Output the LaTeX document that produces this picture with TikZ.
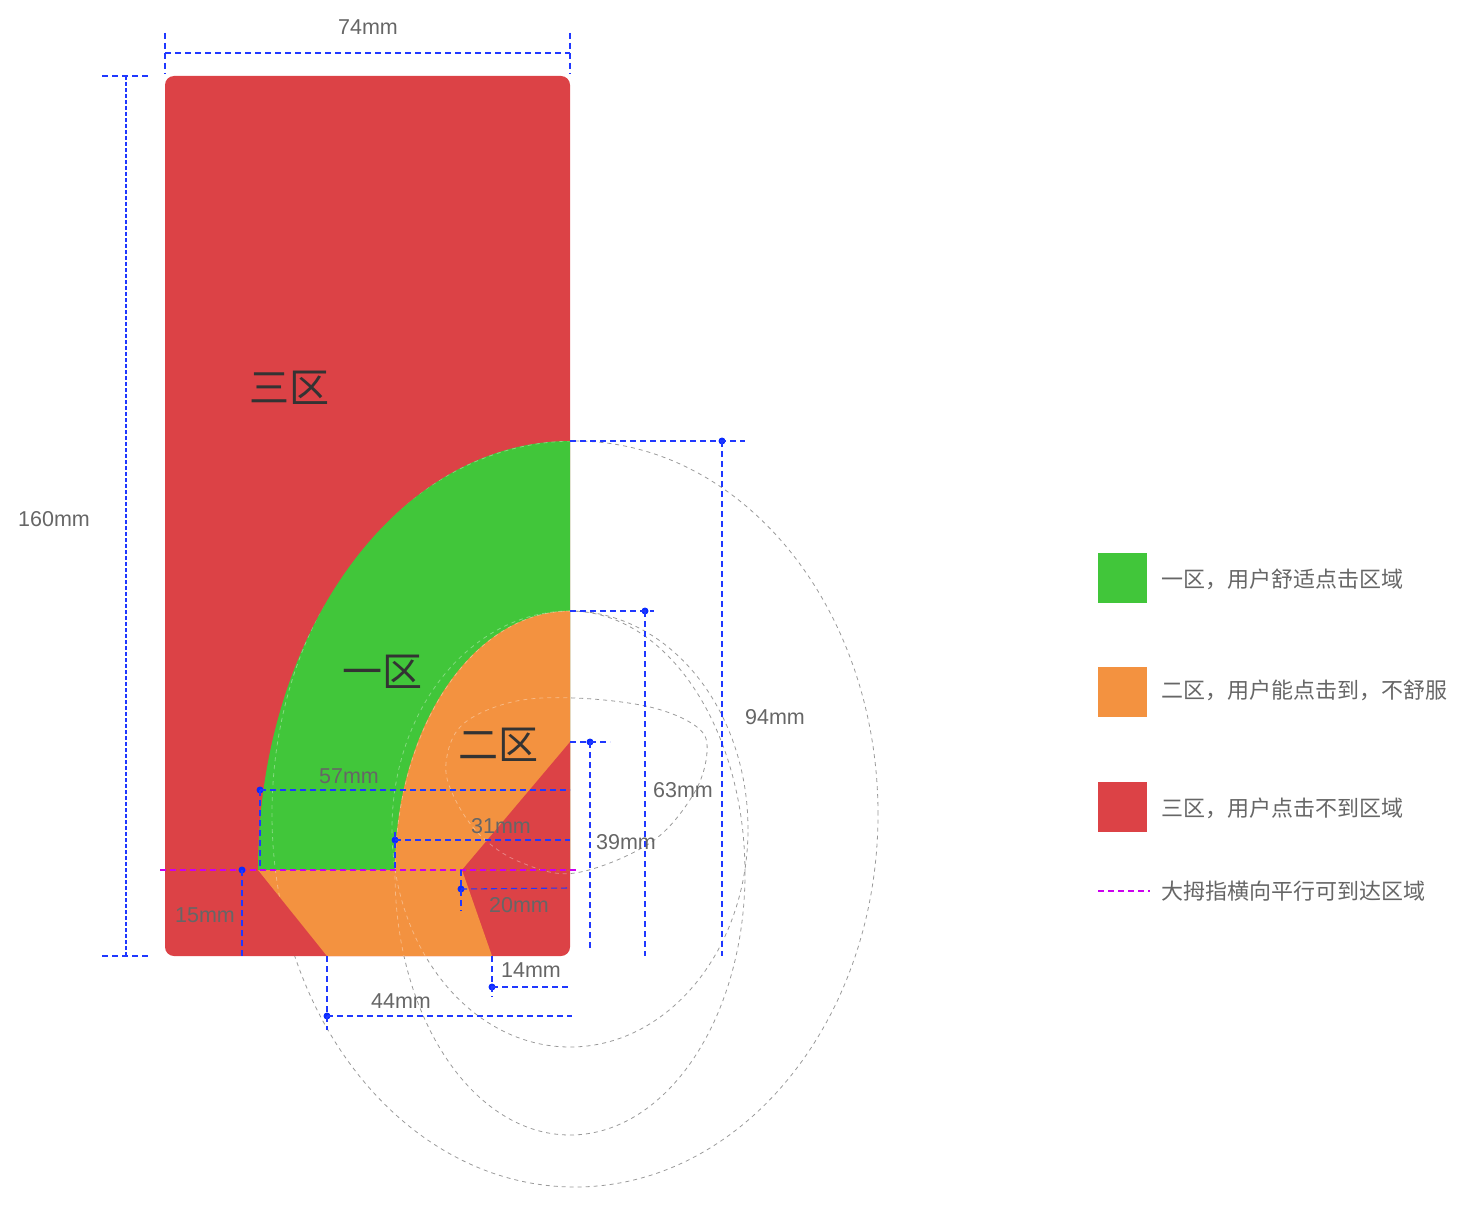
\documentclass[tikz,border=0pt]{standalone}
\usepackage{fontspec}
\setmainfont{Liberation Sans}
\newfontfamily\cjk{Noto Sans CJK SC}
\definecolor{zred}{HTML}{DC4246}
\definecolor{zgreen}{HTML}{41C63A}
\definecolor{zorange}{HTML}{F39240}
\definecolor{dimblue}{HTML}{2038FF}
\definecolor{dotblue}{HTML}{0A2BFF}
\definecolor{thumb}{HTML}{CC00EE}
\definecolor{labgray}{HTML}{666666}
\definecolor{guide}{HTML}{9A9A9A}
\definecolor{zonetext}{HTML}{333333}
\begin{document}
\begin{tikzpicture}[x=1pt,y=-1pt,
  dimline/.style={draw=dimblue, line width=1.1pt, dash pattern=on 6pt off 4pt},
  guideline/.style={draw=guide, line width=0.8pt, dash pattern=on 4pt off 4pt},
  faintline/.style={draw=white, opacity=0.35, line width=0.8pt, dash pattern=on 4pt off 4pt},
  thumbline/.style={draw=thumb, line width=1.4pt, dash pattern=on 6pt off 4pt},
  dimdot/.style={circle, fill=dotblue, inner sep=0pt, minimum size=7pt},
  dimlabel/.style={text=labgray, font=\fontsize{21.5}{26}\selectfont, inner sep=0pt},
  zonelabel/.style={text=zonetext, font=\cjk\fontsize{40}{48}\selectfont, inner sep=0pt},
  legendtext/.style={text=labgray, font=\cjk\fontsize{22}{26}\selectfont, inner sep=0pt, anchor=west},
  legendbox/.style={minimum width=49pt, minimum height=50pt, inner sep=0pt, anchor=north west}]
\useasboundingbox (0,0) rectangle (1471,1206);

% ---------- guide curves (behind fills) ----------
\def\guidecurves#1{%
  \draw[#1] (575,814) ellipse [x radius=303pt, y radius=373pt];
  \draw[#1] (570,873) ellipse [x radius=175pt, y radius=262pt];
  \draw[#1] (570,829) ellipse [x radius=178pt, y radius=218pt];
  \draw[#1] plot[smooth cycle, tension=0.6] coordinates {(575,698) (650,707) (697,727) (707,752) (693,795) (650,843) (575,873) (520,862) (480,835) (454,797) (446,763) (462,725) (512,702)};
}
\guidecurves{guideline}

% ---------- phone and zones ----------
\fill[zred, rounded corners=9pt] (165,76) rectangle (570,956);
\fill[zgreen] (570,441) arc[start angle=90, end angle=180, x radius=312pt, y radius=429pt] -- (570,870) -- cycle;
\fill[zorange] (570,611) arc[start angle=90, end angle=180, x radius=175pt, y radius=259pt] -- (570,870) -- cycle;
\fill[zred] (462,870) -- (570,742) -- (570,870) -- cycle;
\fill[zorange] (258,870) -- (327,956) -- (492,956) -- (462,870) -- cycle;

% faint guide curves over the reachable zones
\begin{scope}
\clip (570,441) arc[start angle=90, end angle=180, x radius=312pt, y radius=429pt] -- (327,956) -- (570,956) -- cycle;
\guidecurves{faintline}
\end{scope}

% ---------- zone labels ----------
\node[zonelabel] (z3) at (289,388) {三区};
\node[zonelabel] (z1) at (382,672) {一区};
\node[zonelabel] (z2) at (498,745) {二区};

% ---------- thumb line ----------
\coordinate (thL) at (160,870);
\coordinate (thR) at (578,870);
\draw[thumbline] (thL) -- (thR);

% ---------- dimension: 74mm ----------
\coordinate (w1a) at (165,33); \coordinate (w1b) at (165,74);
\coordinate (w2a) at (570,33); \coordinate (w2b) at (570,74);
\coordinate (w1) at (165,53); \coordinate (w2) at (570,53);
\draw[dimline] (w1a) -- (w1b);
\draw[dimline] (w2a) -- (w2b);
\draw[dimline] (w1) -- (w2);
\node[dimlabel] (l74) at (368,27) {74mm};

% ---------- dimension: 160mm ----------
\coordinate (h1a) at (102,76); \coordinate (h1b) at (148,76);
\coordinate (h2a) at (102,956); \coordinate (h2b) at (148,956);
\coordinate (h1) at (126,76); \coordinate (h2) at (126,956);
\draw[dimline] (h1a) -- (h1b);
\draw[dimline] (h2a) -- (h2b);
\draw[dimline, dash pattern=on 4pt off 2pt] (h1) -- (h2);
\node[dimlabel] (l160) at (54,519) {160mm};

% ---------- dimension: 94mm ----------
\coordinate (a94s) at (570,441); \coordinate (a94e) at (745,441);
\node[dimdot] (d94) at (722,441) {};
\coordinate (a94b) at (722,956);
\draw[dimline] (a94s) -- (a94e);
\draw[dimline] (d94.center) -- (a94b);
\node[dimlabel] (l94) at (775,717) {94mm};

% ---------- dimension: 63mm ----------
\coordinate (a63s) at (570,611); \coordinate (a63e) at (654,611);
\node[dimdot] (d63) at (645,611) {};
\coordinate (a63b) at (645,956);
\draw[dimline] (a63s) -- (a63e);
\draw[dimline] (d63.center) -- (a63b);
\node[dimlabel] (l63) at (683,790) {63mm};

% ---------- dimension: 39mm ----------
\coordinate (a39s) at (570,742); \coordinate (a39e) at (610,742);
\node[dimdot] (d39) at (590,742) {};
\coordinate (a39b) at (590,948);
\draw[dimline] (a39s) -- (a39e);
\draw[dimline] (d39.center) -- (a39b);
\node[dimlabel] (l39) at (626,842) {39mm};

% ---------- dimension: 57mm ----------
\node[dimdot] (d57) at (260,790) {};
\coordinate (a57e) at (570,790);
\coordinate (a57b) at (260,870);
\draw[dimline] (d57.center) -- (a57e);
\draw[dimline] (d57.center) -- (a57b);
\node[dimlabel] (l57) at (349,776) {57mm};

% ---------- dimension: 31mm ----------
\node[dimdot] (d31) at (395,840) {};
\coordinate (a31e) at (570,840);
\coordinate (a31t) at (395,832);
\coordinate (a31b) at (395,870);
\draw[dimline] (d31.center) -- (a31e);
\draw[dimline] (a31t) -- (a31b);
\node[dimlabel] (l31) at (501,826) {31mm};

% ---------- dimension: 15mm ----------
\node[dimdot] (d15) at (242,870) {};
\coordinate (a15b) at (242,956);
\draw[dimline] (d15.center) -- (a15b);
\node[dimlabel] (l15) at (205,915) {15mm};

% ---------- dimension: 20mm ----------
\coordinate (a20t) at (461,870); \coordinate (a20b) at (461,911);
\node[dimdot] (d20) at (461,889) {};
\coordinate (a20e) at (570,888);
\draw[dimline] (a20t) -- (a20b);
\draw[dimline] (d20.center) -- (a20e);
\node[dimlabel] (l20) at (519,905) {20mm};

% ---------- dimension: 14mm ----------
\coordinate (a14t) at (492,956); \coordinate (a14b) at (492,997);
\node[dimdot] (d14) at (492,987) {};
\coordinate (a14e) at (568,987);
\draw[dimline] (a14t) -- (a14b);
\draw[dimline] (d14.center) -- (a14e);
\node[dimlabel] (l14) at (531,970) {14mm};

% ---------- dimension: 44mm ----------
\coordinate (a44t) at (327,956); \coordinate (a44b) at (327,1030);
\node[dimdot] (d44) at (327,1016) {};
\coordinate (a44e) at (572,1016);
\draw[dimline] (a44t) -- (a44b);
\draw[dimline] (d44.center) -- (a44e);
\node[dimlabel] (l44) at (401,1001) {44mm};

% ---------- legend ----------
\node[legendbox, fill=zgreen] (lg1) at (1098,553) {};
\node[legendtext] (lt1) at (1161,579) {一区，用户舒适点击区域};
\node[legendbox, fill=zorange] (lg2) at (1098,667) {};
\node[legendtext] (lt2) at (1161,690) {二区，用户能点击到，不舒服};
\node[legendbox, fill=zred] (lg3) at (1098,782) {};
\node[legendtext] (lt3) at (1161,808) {三区，用户点击不到区域};
\coordinate (lg4a) at (1098,891); \coordinate (lg4b) at (1150,891);
\draw[thumbline, line width=1.6pt] (lg4a) -- (lg4b);
\node[legendtext] (lt4) at (1161,891) {大拇指横向平行可到达区域};
\end{tikzpicture}
\end{document}
